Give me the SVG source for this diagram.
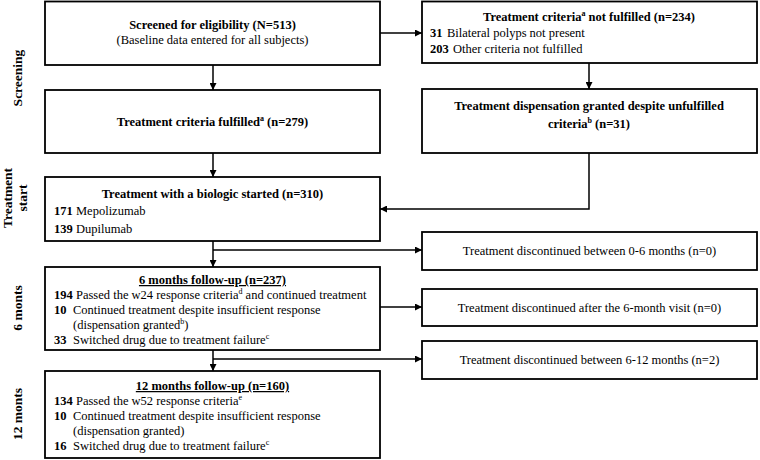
<svg xmlns="http://www.w3.org/2000/svg" width="760" height="460" viewBox="0 0 760 460">
<defs>
<marker id="ah" viewBox="0 0 8 8" refX="8" refY="4" markerWidth="7" markerHeight="7" markerUnits="userSpaceOnUse" orient="auto">
<path d="M0,0 L8,4 L0,8 Z" fill="#000"/>
</marker>
<style>
.box{fill:#fff;stroke:#000;stroke-width:1.8}
.t{font-family:"Liberation Serif","Times New Roman",serif;font-size:12.5px;fill:#000}
.b{font-weight:bold}
.c{text-anchor:middle}
.lab{font-family:"Liberation Serif","Times New Roman",serif;font-size:13.5px;font-weight:bold;fill:#000;text-anchor:middle}
.sup{font-size:8px}
.con{fill:none;stroke:#000;stroke-width:1.5}
</style>
</defs>
<rect width="760" height="460" fill="#fff"/>

<g id="phase-labels">
<text class="lab" transform="translate(22,78) rotate(-90)">Screening</text>
<text class="lab" transform="translate(12,198) rotate(-90)">Treatment</text>
<text class="lab" transform="translate(27,198) rotate(-90)">start</text>
<text class="lab" transform="translate(22,308) rotate(-90)">6 monts</text>
<text class="lab" transform="translate(22,414) rotate(-90)">12 monts</text>
</g>

<g id="connectors">
<path class="con" d="M213,65 V90" marker-end="url(#ah)"/>
<path class="con" d="M380,33 H422" marker-end="url(#ah)"/>
<path class="con" d="M589,63 V89" marker-end="url(#ah)"/>
<path class="con" d="M213,153 V177" marker-end="url(#ah)"/>
<path class="con" d="M589,153 V209 H380" marker-end="url(#ah)"/>
<path class="con" d="M213,241 V267" marker-end="url(#ah)"/>
<path class="con" d="M213,250 H422" marker-end="url(#ah)"/>
<path class="con" d="M380,307 H422" marker-end="url(#ah)"/>
<path class="con" d="M213,350 V371" marker-end="url(#ah)"/>
<path class="con" d="M213,359 H422" marker-end="url(#ah)"/>
</g>

<g id="screened">
<rect class="box" x="45" y="1.5" width="335" height="63.5"/>
<text class="t b c" x="212.5" y="29">Screened for eligibility (N=513)</text>
<text class="t c" x="212.5" y="44">(Baseline data entered for all subjects)</text>
</g>

<g id="not-fulfilled">
<rect class="box" x="422" y="1.5" width="335" height="61.5"/>
<text class="t b c" x="589" y="21">Treatment criteria<tspan class="sup" dy="-5">a</tspan><tspan dy="5"> not fulfilled (n=234)</tspan></text>
<text class="t" y="37"><tspan class="b" x="430">31</tspan><tspan x="447">Bilateral polyps not present</tspan></text>
<text class="t" y="53"><tspan class="b" x="430">203</tspan><tspan x="453">Other criteria not fulfilled</tspan></text>
</g>

<g id="fulfilled">
<rect class="box" x="45" y="90" width="335" height="63"/>
<text class="t b c" x="212.5" y="126">Treatment criteria fulfilled<tspan class="sup" dy="-5">a</tspan><tspan dy="5"> (n=279)</tspan></text>
</g>

<g id="dispensation">
<rect class="box" x="422" y="89" width="335" height="64"/>
<text class="t b c" x="589" y="110">Treatment dispensation granted despite unfulfilled</text>
<text class="t b c" x="589" y="128">criteria<tspan class="sup" dy="-5">b</tspan><tspan dy="5"> (n=31)</tspan></text>
</g>

<g id="started">
<rect class="box" x="45" y="177" width="335" height="64"/>
<text class="t b c" x="212.5" y="198">Treatment with a biologic started (n=310)</text>
<text class="t" y="215"><tspan class="b" x="54">171</tspan><tspan x="76">Mepolizumab</tspan></text>
<text class="t" y="233"><tspan class="b" x="54">139</tspan><tspan x="76">Dupilumab</tspan></text>
</g>

<g id="disc-0-6">
<rect class="box" x="422" y="232" width="335" height="38"/>
<text class="t c" x="589.5" y="255">Treatment discontinued between 0-6 months (n=0)</text>
</g>

<g id="followup-6">
<rect class="box" x="45" y="267" width="335" height="83"/>
<text class="t b c" x="212.5" y="284" text-decoration="underline">6 months follow-up (n=237)</text>
<text class="t" y="299"><tspan class="b" x="54">194</tspan><tspan x="76">Passed the w24 response criteria</tspan><tspan class="sup" dy="-5">d</tspan><tspan dy="5"> and continued treatment</tspan></text>
<text class="t" y="314"><tspan class="b" x="54">10</tspan><tspan x="73">Continued treatment despite insufficient response</tspan></text>
<text class="t" y="329"><tspan x="73">(dispensation granted</tspan><tspan class="sup" dy="-5">b</tspan><tspan dy="5">)</tspan></text>
<text class="t" y="344"><tspan class="b" x="54">33</tspan><tspan x="73">Switched drug due to treatment failure</tspan><tspan class="sup" dy="-5">c</tspan></text>
</g>

<g id="disc-after-6">
<rect class="box" x="422" y="289" width="335" height="37"/>
<text class="t c" x="589.5" y="312">Treatment discontinued after the 6-month visit (n=0)</text>
</g>

<g id="disc-6-12">
<rect class="box" x="422" y="341" width="335" height="38"/>
<text class="t c" x="589.5" y="364">Treatment discontinued between 6-12 months (n=2)</text>
</g>

<g id="followup-12">
<rect class="box" x="45" y="371" width="335" height="87"/>
<text class="t b c" x="212.5" y="390" text-decoration="underline">12 months follow-up (n=160)</text>
<text class="t" y="405"><tspan class="b" x="54">134</tspan><tspan x="76">Passed the w52 response criteria</tspan><tspan class="sup" dy="-5">e</tspan></text>
<text class="t" y="420"><tspan class="b" x="54">10</tspan><tspan x="73">Continued treatment despite insufficient response</tspan></text>
<text class="t" y="435"><tspan x="73">(dispensation granted)</tspan></text>
<text class="t" y="450"><tspan class="b" x="54">16</tspan><tspan x="73">Switched drug due to treatment failure</tspan><tspan class="sup" dy="-5">c</tspan></text>
</g>
</svg>
